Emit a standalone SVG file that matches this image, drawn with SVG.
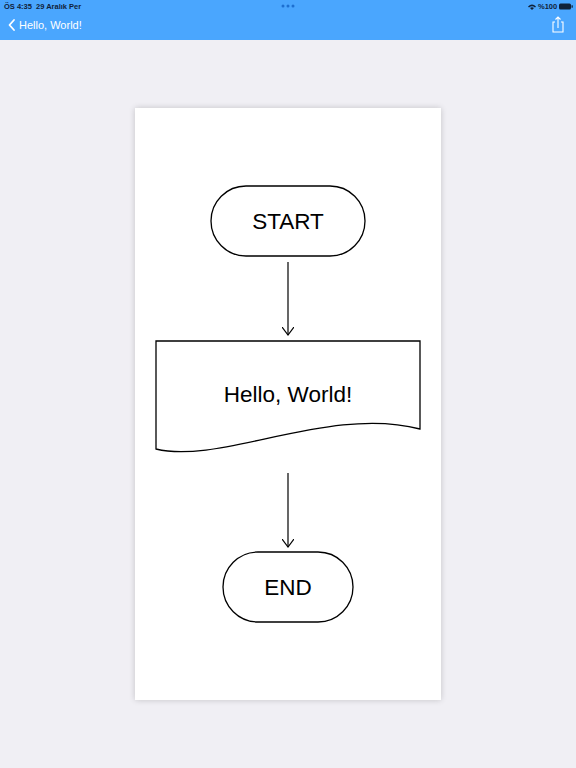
<svg xmlns="http://www.w3.org/2000/svg" width="576" height="768" viewBox="0 0 576 768">
<defs>
<style>
.sh{fill:none;stroke:#000;stroke-width:1.3}
.lbl{font-family:"Liberation Sans",Arial,sans-serif;font-size:22.5px;fill:#000;text-anchor:middle;dominant-baseline:central}
.con{fill:none;stroke:#000;stroke-width:1.2}
.bar{font-family:"Liberation Sans",Arial,sans-serif;fill:#fff}
.st{font-family:"Liberation Sans",Arial,sans-serif;font-size:7.5px;font-weight:bold;fill:#10223a}
</style>
<filter id="shadow" x="-10%" y="-10%" width="120%" height="120%">
<feGaussianBlur stdDeviation="3"/>
</filter>
<marker id="arr" markerWidth="12" markerHeight="12" refX="8" refY="6" orient="auto" markerUnits="userSpaceOnUse">
<path d="M0,0 L8,6 L0,12" fill="none" stroke="#000" stroke-width="1.2"/>
</marker>
</defs>
<rect width="576" height="768" fill="#f0eff4"/>
<!-- header -->
<rect width="576" height="40" fill="#4aa6fe"/>
<text class="st" x="4" y="8.5">ÖS 4:35</text>
<text class="st" x="36" y="8.5">29 Aralık Per</text>
<g fill="#1d6fd0"><circle cx="283" cy="6" r="1.5"/><circle cx="288" cy="6" r="1.5"/><circle cx="293" cy="6" r="1.5"/></g>
<g fill="#10223a">
<path d="M528,6.5 Q532,2.5 536,6.5 L535,7.5 Q532,4.8 529,7.5Z"/>
<path d="M530,8 Q532,6.3 534,8 L532,10Z"/>
<text class="st" x="538" y="8.5">%100</text>
<rect x="559" y="3.5" width="12" height="6" rx="1.5"/>
<rect x="571.5" y="5.3" width="1.3" height="2.4"/>
</g>
<path d="M14,20 L9.5,25 L14,30" fill="none" stroke="#fff" stroke-width="1.8" stroke-linecap="round" stroke-linejoin="round"/>
<text class="bar" x="19" y="29" font-size="11">Hello, World!</text>
<g fill="none" stroke="#fff" stroke-width="1.1">
<path d="M555,22 H553 V32 H563 V22 H561"/>
<path d="M558,28 V17 M555.5,19.5 L558,17 L560.5,19.5"/>
</g>
<!-- paper -->
<rect x="135" y="108" width="306" height="592" fill="#000" opacity="0.18" filter="url(#shadow)"/>
<rect x="135" y="108" width="306" height="592" fill="#fff"/>
<!-- nodes -->
<g id="start">
<rect class="sh" x="211" y="186" width="154" height="70" rx="35"/>
<text class="lbl" x="288" y="221">START</text>
</g>
<g id="print">
<path class="sh" d="M156,341 H420 V429 C330,405 220,465 156,449 Z"/>
<text class="lbl" x="288" y="394">Hello, World!</text>
</g>
<g id="end">
<rect class="sh" x="223" y="552" width="130" height="70" rx="35"/>
<text class="lbl" x="288" y="587">END</text>
</g>
<g id="connectors">
<line class="con" x1="288" y1="262" x2="288" y2="335" marker-end="url(#arr)"/>
<line class="con" x1="288" y1="473" x2="288" y2="547" marker-end="url(#arr)"/>
</g>
</svg>
